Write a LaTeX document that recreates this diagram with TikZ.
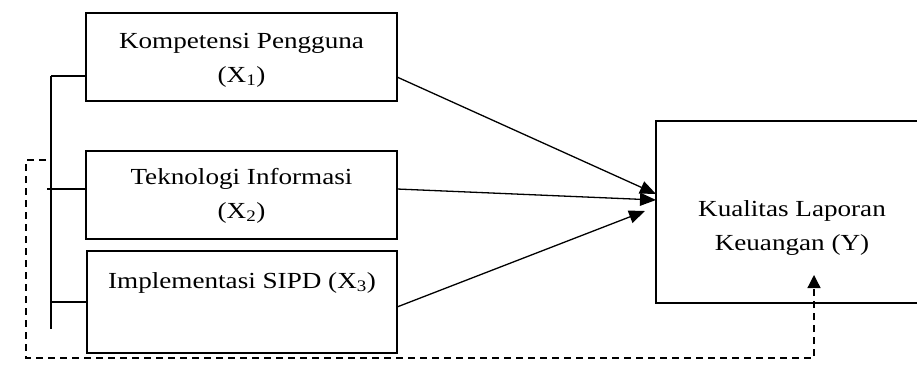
\documentclass[tikz,border=0pt]{standalone}
\usepackage{fontspec}
\setmainfont{Liberation Serif}[FakeStretch=1.18]
\usetikzlibrary{arrows.meta}
\begin{document}
\begin{tikzpicture}[x=1pt,y=-1pt,
  varbox/.style={draw, line width=1.4pt, rectangle, inner sep=0pt},
  lbl/.style={align=center, inner sep=0pt, anchor=base, font=\fontsize{23}{33.5}\selectfont},
  conn/.style={line width=1.3pt},
  arr/.style={line width=1.3pt, -{Triangle[length=16pt,width=13pt]}},
  dasharr/.style={line width=1.3pt, dash pattern=on 7pt off 5pt, -{Triangle[length=13pt,width=13pt]}}]
\useasboundingbox (0,0) rectangle (917,369);
% boxes
\node[varbox, minimum width=311pt, minimum height=88pt] (X1) at (241.5,57) {};
\node[varbox, minimum width=311pt, minimum height=88pt] (X2) at (241.5,195) {};
\node[varbox, minimum width=310pt, minimum height=102pt] (X3) at (242,302) {};
\node[varbox, minimum width=272pt, minimum height=182pt] (Y) at (792,212) {};
% labels (base anchor = last line's baseline)
\node[lbl] (L1) at (241.5,82) {Kompetensi Pengguna\\(X\textsubscript{1})};
\node[lbl] (L2) at (241.5,218) {Teknologi Informasi\\(X\textsubscript{2})};
\node[lbl] (L3) at (242,288) {Implementasi SIPD (X\textsubscript{3})};
\node[lbl] (LY) at (792,250) {Kualitas Laporan\\Keuangan (Y)};
% bracket
\coordinate (btop) at (51,76);
\coordinate (bbot) at (51,329);
\coordinate (b2) at (47,189);
\draw[conn] (btop) -- (bbot);
\draw[conn] (btop) -- (btop -| X1.west);
\draw[conn] (b2) -- (b2 -| X2.west);
\draw[conn] (51,302) -- (X3.west);
% arrows
\coordinate (s1) at (397,77);
\coordinate (s2) at (397,189);
\coordinate (s3) at (397,307);
\coordinate (t1) at (656,194);
\coordinate (t2) at (656,200);
\coordinate (t3) at (645,211);
\draw[arr] (s1) -- (t1);
\draw[arr] (s2) -- (t2);
\draw[arr] (s3) -- (t3);
% dashed loop
\coordinate (d0) at (46,160);
\coordinate (d1) at (26,160);
\coordinate (d2) at (26,358);
\coordinate (d3) at (814,358);
\coordinate (d4) at (814,275);
\draw[dasharr] (d0) -- (d1) -- (d2) -- (d3) -- (d4);
\end{tikzpicture}
\end{document}
